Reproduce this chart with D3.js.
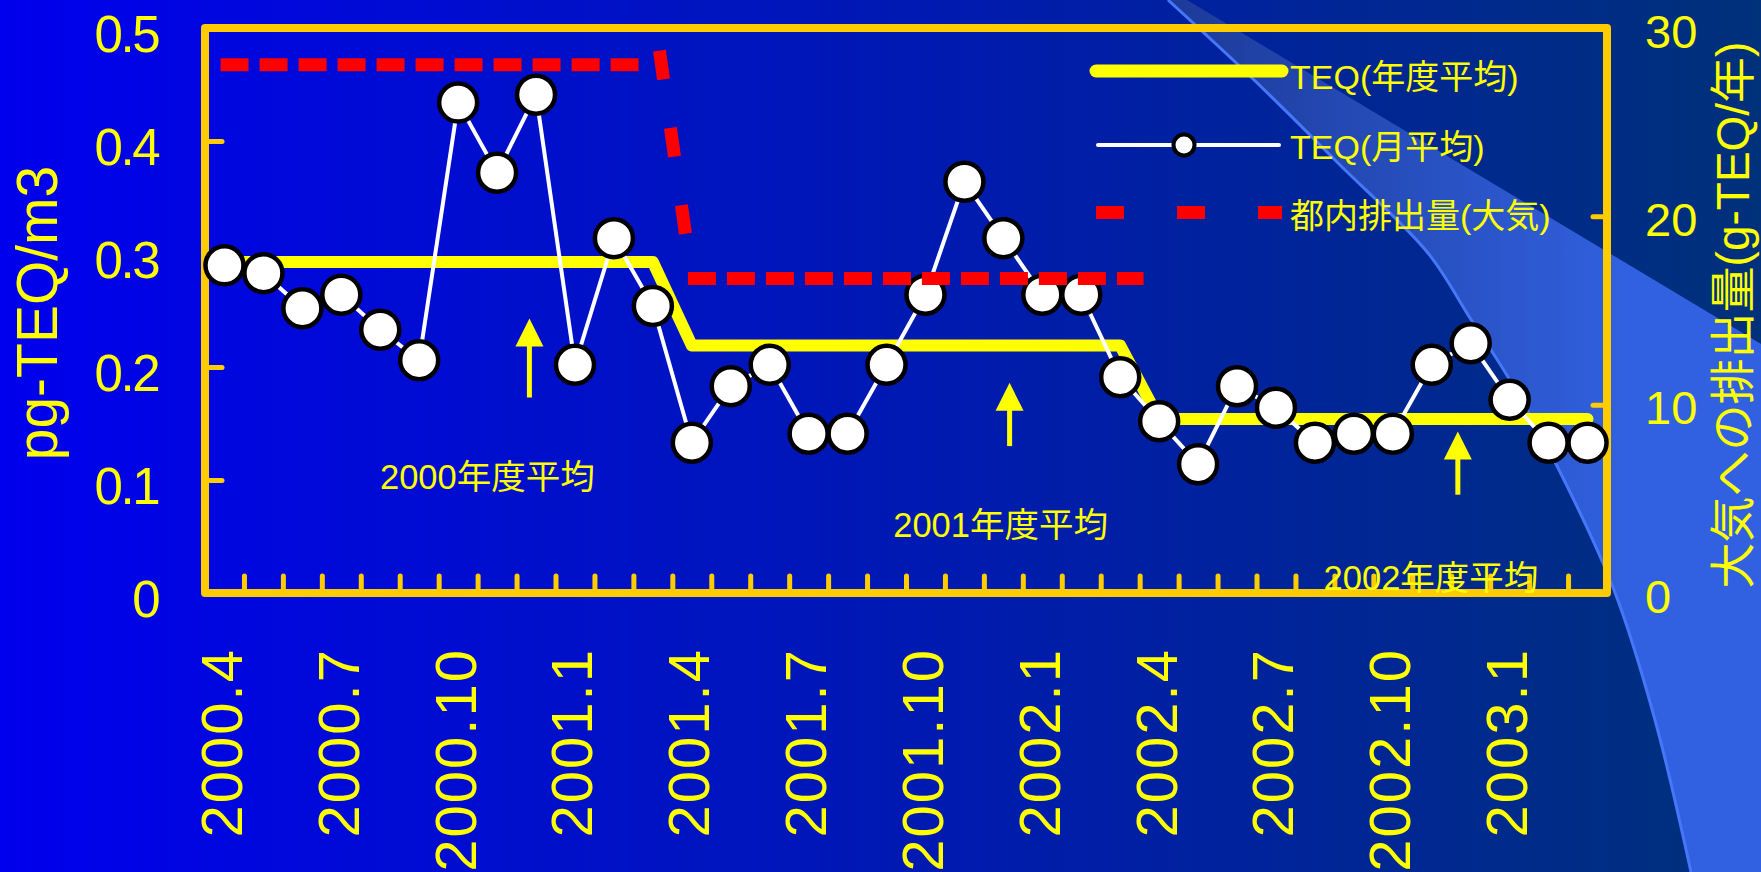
<!DOCTYPE html>
<html>
<head>
<meta charset="utf-8">
<script src="https://cdn.jsdelivr.net/npm/d3@7"></script>
<style>
  html, body { margin: 0; padding: 0; overflow: hidden; background: #0000ee; }
  svg { display: block; }
  text { font-family: "Liberation Sans", Arial, "Noto Sans CJK JP", sans-serif; fill: #ffff00; }
</style>
</head>
<body>
<svg id="chart" width="1761" height="872"></svg>
<script>
// ---- data ----
const months = [
  "2000.4","2000.5","2000.6","2000.7","2000.8","2000.9","2000.10","2000.11","2000.12","2001.1","2001.2","2001.3",
  "2001.4","2001.5","2001.6","2001.7","2001.8","2001.9","2001.10","2001.11","2001.12","2002.1","2002.2","2002.3",
  "2002.4","2002.5","2002.6","2002.7","2002.8","2002.9","2002.10","2002.11","2002.12","2003.1","2003.2","2003.3"
];
// monthly mean TEQ (pg-TEQ/m3)
const monthlyTEQ = [
  0.290, 0.283, 0.252, 0.264, 0.233, 0.206, 0.434, 0.372, 0.441, 0.202, 0.314, 0.254,
  0.133, 0.183, 0.202, 0.141, 0.141, 0.202, 0.264, 0.364, 0.314, 0.264, 0.264, 0.191,
  0.152, 0.114, 0.183, 0.164, 0.133, 0.141, 0.141, 0.202, 0.221, 0.171, 0.133, 0.133
];
// fiscal-year mean TEQ (pg-TEQ/m3)
const fiscalYears = ["2000年度平均", "2001年度平均", "2002年度平均"];
const annualTEQ = [0.293, 0.219, 0.154];
// Tokyo emissions to air (g-TEQ/year), drawn as a stepped dashed line over month positions
const emissionFY = ["2000", "2001"];
const emissionValue = [28.05, 16.7];
const emissionStart = [-0.1, 11.9];
const emissionEnd = [10.85, 23.6];
const emissionStepFrom = [11.17, 28.8];
const emissionStepTo = [12.0, 16.7];
// annotation arrows and their labels (month position, value)
const arrowMonth = [7.83, 20.16, 31.67];
const arrowTip = [0.243, 0.186, 0.143];
const arrowBase = [0.173, 0.130, 0.087];
const labelMonth = [6.75, 19.93, 30.98];
const labelValue = [0.092, 0.050, 0.003];
// axis ticks
const leftTicks = [0, 0.1, 0.2, 0.3, 0.4, 0.5];
const rightTicks = [0, 10, 20, 30];
const monthTickLabels = ["2000.4","2000.7","2000.10","2001.1","2001.4","2001.7","2001.10","2002.1","2002.4","2002.7","2002.10","2003.1"];
const legendLabels = ["TEQ(年度平均)", "TEQ(月平均)", "都内排出量(大気)"];

// ---- layout ----
const W = 1761, H = 872;
const plot = { left: 205, right: 1607, top: 28, bottom: 593 };
const YELLOW = "#ffff00", GOLD = "#ffcc00";

const svg = d3.select("#chart");
const defs = svg.append("defs");

const x = d3.scaleLinear().domain([-0.5, months.length - 0.5]).range([plot.left, plot.right]);
const y = d3.scaleLinear().domain([0, 0.5]).range([plot.bottom, plot.top]);
const yR = d3.scaleLinear().domain([0, 30]).range([plot.bottom, plot.top]);

// ---- background ----
const bg = defs.append("linearGradient").attr("id", "bg")
  .attr("gradientUnits", "userSpaceOnUse").attr("x1", 0).attr("y1", 0).attr("x2", W).attr("y2", 0);
bg.append("stop").attr("offset", 0).attr("stop-color", "#0000ee");
bg.append("stop").attr("offset", 1).attr("stop-color", "#00317a");
svg.append("rect").attr("width", W).attr("height", H).attr("fill", "url(#bg)");

const sweep = defs.append("linearGradient").attr("id", "sweep")
  .attr("gradientUnits", "userSpaceOnUse").attr("x1", 1170).attr("y1", 0).attr("x2", 1630).attr("y2", 0);
sweep.append("stop").attr("offset", 0).attr("stop-color", "#1c3a98");
sweep.append("stop").attr("offset", 1).attr("stop-color", "#3161e0");

const edgePts = [[1168, 0], [1251, 77], [1340, 165], [1428, 253], [1470, 318], [1508, 377], [1554, 460], [1614, 590], [1655, 720], [1691, 872]];
const edgeLine = d3.line().curve(d3.curveCatmullRom);
const edgeD = edgeLine(edgePts);
const backEdge = edgeLine(edgePts.slice().reverse());
svg.append("path")
  .attr("d", `M1187,0 L1761,344 L1761,872 L1691,872 ` + backEdge.replace(/^M[^C]*/, "L1691,872 ") + " Z")
  .attr("fill", "url(#sweep)");
svg.append("path").attr("d", edgeD).attr("fill", "none").attr("stroke", "#4677f8").attr("stroke-width", 3);

// ---- axes ----
function styleAxis(g) {
  g.select(".domain").remove();
  g.selectAll(".tick line").attr("stroke", GOLD).attr("stroke-width", 5).attr("stroke-linecap", "round");
}

svg.append("g").attr("transform", `translate(${plot.left},0)`)
  .call(d3.axisLeft(y).tickValues(leftTicks).tickFormat(d => d === 0 ? "0" : d3.format(".1f")(d))
    .tickSizeInner(-17).tickSizeOuter(0).tickPadding(47))
  .call(styleAxis)
  .call(g => g.selectAll(".tick text").attr("fill", YELLOW).attr("font-size", 51)
    .attr("letter-spacing", -2.5).attr("dy", "0.47em")
    .style("font-family", '"Liberation Sans", Arial, sans-serif'));

svg.append("g").attr("transform", `translate(${plot.right},0)`)
  .call(d3.axisRight(yR).tickValues(rightTicks).tickSizeInner(-14).tickSizeOuter(0).tickPadding(38))
  .call(styleAxis)
  .call(g => g.selectAll(".tick text").attr("fill", YELLOW).attr("font-size", 47).attr("dy", "0.41em")
    .style("font-family", '"Liberation Sans", Arial, sans-serif'));

const boundaries = d3.range(0.5, months.length - 1, 1);
svg.append("g").attr("transform", `translate(0,${plot.bottom})`)
  .call(d3.axisBottom(x).tickValues(boundaries).tickFormat("").tickSizeInner(-17).tickSizeOuter(0))
  .call(styleAxis);

// month labels, rotated
svg.append("g").selectAll("text").data(monthTickLabels).join("text")
  .attr("transform", d => `translate(${x(months.indexOf(d)) - 3},648) rotate(-90)`)
  .attr("text-anchor", "end").attr("dominant-baseline", "central")
  .attr("font-size", 58).attr("letter-spacing", 2)
  .text(d => d);

// axis titles
svg.append("text").attr("transform", "translate(57,313) rotate(-90)")
  .attr("text-anchor", "middle").attr("font-size", 57).text("pg-TEQ/m3");
svg.append("text").attr("transform", "translate(1749,315) rotate(-90)")
  .attr("text-anchor", "middle").attr("font-size", 46).text("大気への排出量(g-TEQ/年)");

// ---- frame ----
svg.append("rect")
  .attr("x", plot.left).attr("y", plot.top)
  .attr("width", plot.right - plot.left).attr("height", plot.bottom - plot.top)
  .attr("fill", "none").attr("stroke", GOLD).attr("stroke-width", 8).attr("stroke-linejoin", "round");

// ---- annual mean (stepped yellow line) ----
const annualPts = [];
annualTEQ.forEach((v, k) => { annualPts.push([12 * k, v]); annualPts.push([12 * k + 11, v]); });
svg.append("path")
  .attr("d", d3.line().x(d => x(d[0])).y(d => y(d[1]))(annualPts))
  .attr("fill", "none").attr("stroke", YELLOW).attr("stroke-width", 12)
  .attr("stroke-linejoin", "round").attr("stroke-linecap", "round");

// ---- monthly means ----
svg.append("path")
  .attr("d", d3.line().x((d, i) => x(i)).y(d => y(d))(monthlyTEQ))
  .attr("fill", "none").attr("stroke", "#ffffff").attr("stroke-width", 4);
svg.append("g").selectAll("circle").data(monthlyTEQ).join("circle")
  .attr("cx", (d, i) => x(i)).attr("cy", d => y(d)).attr("r", 19)
  .attr("fill", "#ffffff").attr("stroke", "#000000").attr("stroke-width", 4.5);

// ---- emissions (red dashed) ----
emissionValue.forEach((v, k) => {
  svg.append("line")
    .attr("x1", x(emissionStart[k])).attr("x2", x(emissionEnd[k]))
    .attr("y1", yR(v)).attr("y2", yR(v))
    .attr("stroke", "#ff0000").attr("stroke-width", 13).attr("stroke-dasharray", "28,11");
});
svg.append("line")
  .attr("x1", x(emissionStepFrom[0])).attr("y1", yR(emissionStepFrom[1]))
  .attr("x2", x(emissionStepTo[0])).attr("y2", yR(emissionStepTo[1]))
  .attr("stroke", "#ff0000").attr("stroke-width", 13).attr("stroke-dasharray", "29,49");

// ---- arrows and fiscal-year labels ----
const head = 28;
arrowMonth.forEach((m, k) => {
  const ax = x(m), tip = y(arrowTip[k]), base = y(arrowBase[k]);
  svg.append("line").attr("x1", ax).attr("x2", ax).attr("y1", tip + head - 2).attr("y2", base)
    .attr("stroke", YELLOW).attr("stroke-width", 5);
  svg.append("path")
    .attr("d", `M${ax},${tip} L${ax + head / 2},${tip + head} L${ax - head / 2},${tip + head} Z`)
    .attr("fill", YELLOW);
});
svg.append("g").selectAll("text").data(fiscalYears).join("text")
  .attr("x", (d, k) => x(labelMonth[k])).attr("y", (d, k) => y(labelValue[k]))
  .attr("text-anchor", "middle").attr("font-size", 34.5).text(d => d);

// ---- legend ----
const lg = svg.append("g");
const legX1 = 1096, legX2 = 1282, legText = 1290;
const rowY = [71, 145, 212.5];
const rowBase = [89, 159, 228];
lg.append("line").attr("x1", legX1).attr("x2", legX2).attr("y1", rowY[0]).attr("y2", rowY[0])
  .attr("stroke", YELLOW).attr("stroke-width", 13).attr("stroke-linecap", "round");
lg.append("line").attr("x1", legX1 + 2).attr("x2", legX2 - 3).attr("y1", rowY[1]).attr("y2", rowY[1])
  .attr("stroke", "#ffffff").attr("stroke-width", 4).attr("stroke-linecap", "round");
lg.append("circle").attr("cx", (legX1 + legX2) / 2 - 5).attr("cy", rowY[1]).attr("r", 10.5)
  .attr("fill", "#ffffff").attr("stroke", "#000000").attr("stroke-width", 4);
lg.append("line").attr("x1", legX1).attr("x2", legX2).attr("y1", rowY[2]).attr("y2", rowY[2])
  .attr("stroke", "#ff0000").attr("stroke-width", 13).attr("stroke-dasharray", "28,53");
lg.selectAll("text").data(legendLabels).join("text")
  .attr("x", legText).attr("y", (d, i) => rowBase[i])
  .attr("font-size", 34).text(d => d);
</script>
</body>
</html>
